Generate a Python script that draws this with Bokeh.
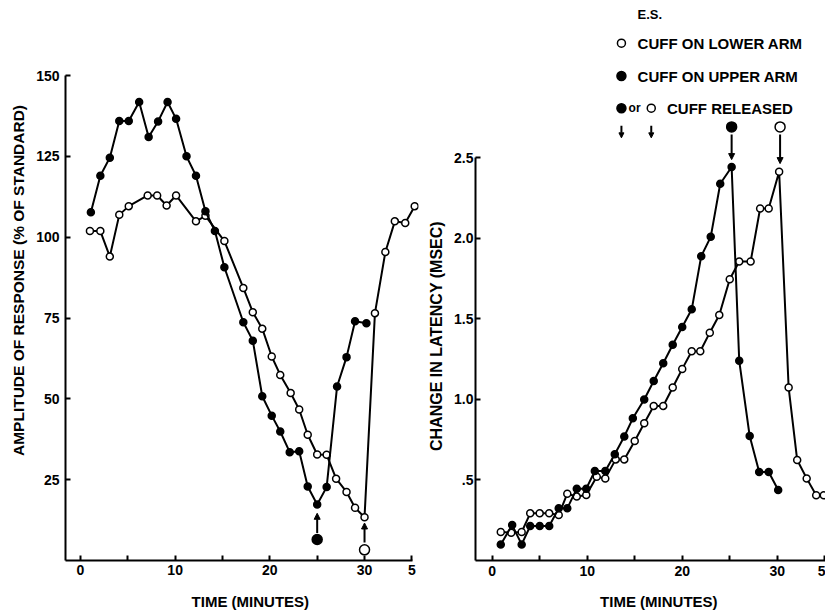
import math
from bokeh.plotting import figure
from bokeh.layouts import row
from bokeh.models import FixedTicker, Arrow, NormalHead
from bokeh.embed import file_html
from bokeh.resources import INLINE
from bokeh.core.properties import value

# ---------------- data ----------------
# Left panel: amplitude of response (% of standard) vs time (minutes)
amp_upper_t = [1.1, 2.1, 3.1, 4.1, 5.1, 6.2, 7.2, 8.2, 9.2, 10.1, 11.2, 12.2, 13.2, 14.2, 15.2,
               17.2, 18.2, 19.2, 20.2, 21.1, 22.1, 23.1, 24.0, 25.0, 26.0, 27.1, 28.1, 29.0, 30.2]
amp_upper_v = [107.7, 119, 124.6, 135.9, 135.9, 141.8, 131, 135.8, 141.8, 136.6, 125, 119, 108, 101.9, 90.7,
               73.7, 68, 50.8, 44.8, 39.9, 33.5, 33.8, 22.9, 17.3, 22.7, 53.8, 62.9, 74, 73.4]
amp_lower_t = [1.0, 2.1, 3.1, 4.1, 5.1, 7.1, 8.1, 9.1, 10.1, 12.2, 13.2, 15.2, 17.2, 18.2, 19.2, 20.2,
               21.1, 22.2, 23.1, 24.0, 25.0, 26.0, 27.0, 28.1, 29.0, 30.0, 31.1, 32.2, 33.2, 34.3, 35.3]
amp_lower_v = [101.9, 101.9, 94, 106.9, 109.6, 112.9, 112.9, 109.8, 112.9, 104.9, 106.6, 98.8, 84.3, 76.8,
               71.7, 63.1, 57.4, 51.8, 46.7, 38.9, 32.8, 32.7, 25.3, 21.2, 16.3, 13.4, 76.5, 95.4, 104.9,
               104.4, 109.6]
amp_release_upper = (25.0, 6.5)     # big filled circle (time, value)
amp_release_lower = (30.0, 3.3)     # big open circle

# Right panel: change in latency (msec) vs time (minutes)
lat_upper_t = [0.9, 2.1, 3.1, 4.0, 5.0, 6.0, 7.0, 7.9, 8.9, 9.9, 10.8, 11.9, 12.9, 13.9, 14.8, 16.0,
               17.0, 18.0, 19.0, 20.0, 21.0, 22.0, 23.0, 24.0, 25.2, 26.0, 27.1, 28.1, 29.1, 30.1]
lat_upper_v = [0.10, 0.22, 0.10, 0.214, 0.214, 0.214, 0.324, 0.324, 0.446, 0.446, 0.556, 0.556, 0.66,
               0.77, 0.883, 1.0, 1.115, 1.225, 1.34, 1.45, 1.56, 1.89, 2.01, 2.34, 2.444, 1.24, 0.773,
               0.55, 0.55, 0.438]
lat_lower_t = [0.9, 2.0, 3.1, 4.0, 5.0, 6.0, 7.0, 7.9, 8.9, 9.9, 11.0, 11.9, 13.0, 13.9, 15.0, 16.0,
               17.0, 18.0, 19.0, 20.0, 21.0, 21.9, 22.9, 23.9, 25.0, 26.0, 27.2, 28.2, 29.1, 30.2,
               31.2, 32.1, 33.1, 34.1, 34.9]
lat_lower_v = [0.177, 0.173, 0.177, 0.293, 0.293, 0.293, 0.283, 0.415, 0.397, 0.407, 0.52, 0.51, 0.628,
               0.628, 0.742, 0.852, 0.96, 0.96, 1.074, 1.19, 1.30, 1.30, 1.415, 1.525, 1.747, 1.857,
               1.857, 2.186, 2.186, 2.415, 1.074, 0.624, 0.51, 0.405, 0.405]
lat_release_upper = (25.2, 2.693)
lat_release_lower = (30.3, 2.693)

time_ticks = [0, 5, 10, 15, 20, 25, 30, 35]
time_labels = {0: "0", 5: "", 10: "10", 15: "", 20: "20", 25: "", 30: "30", 35: "5"}
amp_ticks = [25, 50, 75, 100, 125, 150]
lat_ticks = [0.5, 1.0, 1.5, 2.0, 2.5]
lat_labels = {0.5: ".5", 1.0: "1.0", 1.5: "1.5", 2.0: "2.0", 2.5: "2.5"}

legend_title = "E.S."
legend_lower = "CUFF ON LOWER ARM"
legend_upper = "CUFF ON UPPER ARM"
legend_release = "CUFF RELEASED"

time_title = "TIME (MINUTES)"
amp_title = "AMPLITUDE OF RESPONSE (% OF STANDARD)"
lat_title = "CHANGE IN LATENCY (MSEC)"

FONT = "Liberation Sans"
NBSP = "\u00a0"


def style(p):
    p.xgrid.visible = False
    p.ygrid.visible = False
    p.outline_line_color = None
    p.background_fill_color = "white"
    p.border_fill_color = "white"
    for ax in p.axis:
        ax.axis_line_width = 2
        ax.axis_line_color = "black"
        ax.major_tick_in = 5
        ax.major_tick_out = 0
        ax.major_tick_line_width = 2
        ax.major_tick_line_color = "black"
        ax.minor_tick_line_color = None
        ax.major_label_text_font = FONT
        ax.major_label_text_font_style = "bold"
        ax.major_label_text_font_size = "14px"
        ax.major_label_text_color = "black"
        ax.axis_label_text_font = FONT
        ax.axis_label_text_font_style = "bold"
        ax.axis_label_text_font_size = "15px"
        ax.axis_label_text_color = "black"


def series(p, t, v, filled):
    p.line(t, v, line_color="black", line_width=2)
    p.scatter(t, v, size=7, marker="circle", line_color="black", line_width=1.5,
              fill_color="black" if filled else "white")


# ---------------- left panel ----------------
# frame spans the full height; the axis is bounded to 0..150
p1 = figure(width=425, height=616, x_range=(-1.58, 35.7), y_range=(0, 173.2),
            output_backend="svg", toolbar_location=None,
            min_border_left=65, min_border_right=7, min_border_top=0, min_border_bottom=56)
style(p1)
p1.xaxis.ticker = FixedTicker(ticks=time_ticks)
p1.xaxis.major_label_overrides = time_labels
p1.xaxis.bounds = (-1.58, 35.05)
p1.xaxis.major_label_standoff = 4
p1.xaxis.axis_label = NBSP * 4 + time_title
p1.xaxis.axis_label_standoff = 15
p1.yaxis.ticker = FixedTicker(ticks=amp_ticks)
p1.yaxis.bounds = (0, 150)
p1.yaxis.major_label_standoff = 6
p1.yaxis.axis_label = amp_title
p1.yaxis.axis_label_standoff = 6
p1.yaxis.axis_label_text_font_size = "15.5px"

series(p1, amp_lower_t, amp_lower_v, False)
series(p1, amp_upper_t, amp_upper_v, True)

p1.scatter([amp_release_upper[0]], [amp_release_upper[1]], size=10, marker="circle",
           line_color="black", line_width=1.5, fill_color="black")
p1.scatter([amp_release_lower[0]], [amp_release_lower[1]], size=10, marker="circle",
           line_color="black", line_width=1.5, fill_color="white")
p1.add_layout(Arrow(end=NormalHead(size=6, fill_color="black", line_color="black"),
                    x_start=amp_release_upper[0], y_start=8.5, x_end=amp_release_upper[0], y_end=14.6,
                    line_width=2, line_color="black"))
p1.add_layout(Arrow(end=NormalHead(size=6, fill_color="black", line_color="black"),
                    x_start=amp_release_lower[0], y_start=5.6, x_end=amp_release_lower[0], y_end=11.6,
                    line_width=2, line_color="black"))

# ---------------- right panel ----------------
p2 = figure(width=400, height=616, x_range=(-1.76, 35.08), y_range=(0, 3.478),
            output_backend="svg", toolbar_location=None,
            min_border_left=50, min_border_right=0, min_border_top=0, min_border_bottom=56)
style(p2)
p2.xaxis.ticker = FixedTicker(ticks=time_ticks)
p2.xaxis.major_label_overrides = time_labels
p2.xaxis.bounds = (-1.76, 35.08)
p2.xaxis.major_label_standoff = 5
p2.xaxis.axis_label = NBSP * 4 + time_title
p2.xaxis.axis_label_standoff = 14
p2.yaxis.ticker = FixedTicker(ticks=lat_ticks)
p2.yaxis.major_label_overrides = lat_labels
p2.yaxis.bounds = (0, 2.5)
p2.yaxis.major_label_standoff = 2
p2.yaxis.axis_label = lat_title + NBSP * 25
p2.yaxis.axis_label_standoff = 6
p2.yaxis.axis_label_text_font_size = "16px"

series(p2, lat_lower_t, lat_lower_v, False)
series(p2, lat_upper_t, lat_upper_v, True)

p2.scatter([lat_release_upper[0]], [lat_release_upper[1]], size=10, marker="circle",
           line_color="black", line_width=1.5, fill_color="black")
p2.scatter([lat_release_lower[0]], [lat_release_lower[1]], size=10, marker="circle",
           line_color="black", line_width=1.5, fill_color="white")
p2.add_layout(Arrow(end=NormalHead(size=6, fill_color="black", line_color="black"),
                    x_start=lat_release_upper[0], y_start=2.645, x_end=lat_release_upper[0], y_end=2.49,
                    line_width=2, line_color="black"))
p2.add_layout(Arrow(end=NormalHead(size=6, fill_color="black", line_color="black"),
                    x_start=lat_release_lower[0], y_start=2.645, x_end=lat_release_lower[0], y_end=2.465,
                    line_width=2, line_color="black"))

# legend block
lx_sym = 13.6
lx_txt = 15.3
p2.text([lx_txt], [3.393], text=[legend_title], text_font=value(FONT), text_font_style="bold",
        text_font_size="13px", text_baseline="middle", text_align="left", text_color="black")
p2.scatter([lx_sym], [3.213], size=8, marker="circle", line_color="black", line_width=1.5, fill_color="white")
p2.text([lx_txt], [3.213], text=[legend_lower], text_font=value(FONT), text_font_style="bold",
        text_font_size="15px", text_baseline="middle", text_align="left", text_color="black")
p2.scatter([lx_sym], [3.009], size=9, marker="circle", line_color="black", line_width=1.5, fill_color="black")
p2.text([lx_txt], [3.009], text=[legend_upper], text_font=value(FONT), text_font_style="bold",
        text_font_size="15px", text_baseline="middle", text_align="left", text_color="black")
p2.scatter([lx_sym], [2.809], size=9, marker="circle", line_color="black", line_width=1.5, fill_color="black")
p2.text([14.35], [2.809], text=["or"], text_font=value(FONT), text_font_style="bold",
        text_font_size="12px", text_baseline="middle", text_align="left", text_color="black")
p2.scatter([16.74], [2.809], size=8, marker="circle", line_color="black", line_width=1.5, fill_color="white")
p2.text([18.4], [2.809], text=[legend_release], text_font=value(FONT), text_font_style="bold",
        text_font_size="15px", text_baseline="middle", text_align="left", text_color="black")
for ax_ in (lx_sym, 16.74):
    p2.add_layout(Arrow(end=NormalHead(size=5, fill_color="black", line_color="black"),
                        x_start=ax_, y_start=2.70, x_end=ax_, y_end=2.625,
                        line_width=2, line_color="black"))

layout = row(p1, p2)
open("out.html", "w").write(file_html(layout, INLINE))
